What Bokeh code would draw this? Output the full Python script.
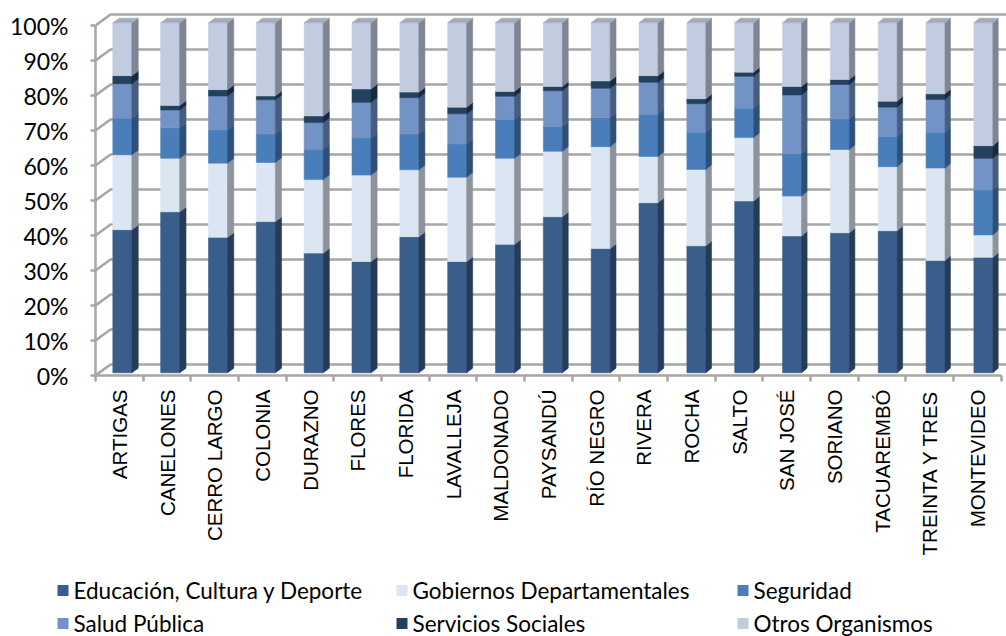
import numpy as np
from bokeh.plotting import figure
from bokeh.models import Range1d, LinearAxis, FixedTicker, ColumnDataSource
from bokeh.layouts import column
from bokeh.core.properties import value
from bokeh.embed import file_html
from bokeh.resources import INLINE

# ---------------- data ----------------
categories = ["ARTIGAS", "CANELONES", "CERRO LARGO", "COLONIA", "DURAZNO", "FLORES",
              "FLORIDA", "LAVALLEJA", "MALDONADO", "PAYSANDÚ", "RÍO NEGRO", "RIVERA",
              "ROCHA", "SALTO", "SAN JOSÉ", "SORIANO", "TACUAREMBÓ", "TREINTA Y TRES",
              "MONTEVIDEO"]

educacion = [40.9, 46.0, 38.7, 43.2, 34.2, 31.8, 38.9, 31.8, 36.7, 44.6, 35.5, 48.6, 36.3, 49.1, 39.1, 40.0, 40.6, 32.1, 33.0]
gobiernos = [21.4, 15.3, 21.2, 16.9, 21.0, 24.7, 19.1, 24.1, 24.6, 18.7, 29.1, 13.2, 21.8, 18.1, 11.4, 23.8, 18.3, 26.4, 6.4]
seguridad = [10.4, 8.7, 9.5, 8.2, 8.7, 10.6, 10.3, 9.5, 11.1, 7.1, 8.3, 12.1, 10.6, 8.4, 12.1, 8.7, 8.6, 10.2, 12.9]
salud = [9.9, 5.1, 9.7, 9.7, 7.6, 10.2, 10.3, 8.6, 6.6, 10.2, 8.4, 9.1, 8.2, 9.1, 16.8, 9.9, 8.4, 9.4, 9.0]
servicios = [2.3, 1.3, 1.8, 1.1, 1.9, 3.8, 1.6, 1.9, 1.4, 1.2, 2.1, 1.9, 1.4, 1.2, 2.4, 1.4, 1.7, 1.6, 3.6]
otros = [15.1, 23.6, 19.1, 20.9, 26.6, 18.9, 19.8, 24.1, 19.6, 18.2, 16.6, 15.1, 21.7, 14.1, 18.2, 16.2, 22.4, 20.3, 35.1]

series_names = ["Educación, Cultura y Deporte", "Gobiernos Departamentales", "Seguridad",
                "Salud Pública", "Servicios Sociales", "Otros Organismos"]
series_values = [educacion, gobiernos, seguridad, salud, servicios, otros]

y_ticks = list(range(0, 101, 10))
y_tick_labels = [f"{t}%" for t in y_ticks]

# ---------------- style ----------------
front_colors = ["#3A5E8B", "#DCE6F2", "#4A7EBB", "#7293C6", "#24405F", "#C2CCE1"]
side_colors = ["#253C59", "#8C939C", "#2E5078", "#475D7F", "#17293E", "#7E8594"]
top_color = "#A3ABBA"
GRID = "#A6A6A6"
GRID_W = 2.5

W, H1, H2 = 1006, 578, 58
FL, FT, FB = 95, 8, 203
FW = W - FL
FH = H1 - FB - FT
CAT_PX = 47.67      # pixels per category
PCT_PX = 3.5        # pixels per percent
x_end = FW / CAT_PX
y_end = FH / PCT_PX


def ox(px):
    return px / CAT_PX


def oy(px):
    return px / PCT_PX


p = figure(width=W, height=H1, x_range=Range1d(0, x_end), y_range=Range1d(0, y_end),
           output_backend="svg", toolbar_location=None,
           min_border_left=FL, min_border_right=0, min_border_top=FT, min_border_bottom=FB,
           x_axis_location=None, y_axis_location=None)
p.grid.visible = False
p.outline_line_color = None
p.background_fill_color = "white"
p.border_fill_color = "white"
p.frame_align = False

# 3D walls: left wall diagonals + back wall gridlines
WALL_DX, WALL_DY = 15, 11
gx, gy = [], []
for t in y_ticks:
    gx.append([0, ox(WALL_DX), x_end + 1])
    gy.append([t, t + oy(WALL_DY), t + oy(WALL_DY)])
p.multi_line(gx, gy, line_color=GRID, line_width=GRID_W)

# axes
yaxis = LinearAxis(ticker=FixedTicker(ticks=y_ticks), bounds=(0, 100),
                   major_label_overrides={t: lab for t, lab in zip(y_ticks, y_tick_labels)},
                   axis_line_color=GRID, axis_line_width=GRID_W,
                   major_tick_out=5, major_tick_in=0, minor_tick_out=0, minor_tick_in=0,
                   major_tick_line_color=GRID, major_tick_line_width=GRID_W,
                   major_label_standoff=22, major_label_text_font="Lato",
                   major_label_text_font_size="23px", major_label_text_color="#000000")
p.add_layout(yaxis, "left")

n = len(categories)
centers = [i + 0.5 for i in range(n)]
xaxis = LinearAxis(ticker=FixedTicker(ticks=centers, minor_ticks=list(range(n + 1))),
                   bounds=(0, n),
                   major_label_overrides={c: name for c, name in zip(centers, categories)},
                   major_label_orientation=np.pi / 2,
                   axis_line_color=GRID, axis_line_width=GRID_W,
                   major_tick_out=0, major_tick_in=0,
                   minor_tick_out=6, minor_tick_in=0,
                   minor_tick_line_color=GRID, minor_tick_line_width=GRID_W,
                   major_label_standoff=8,
                   major_label_text_font="Liberation Sans",
                   major_label_text_font_size="20.5px", major_label_text_color="#000000")
p.add_layout(xaxis, "below")

# bars
BAR_W = 19
FRONT_UP = 2.7
SIDE_UP = 4.6
xs, ys, cols = [], [], []
for i in range(n):
    shift = 3 + i / 6.0
    xl = centers[i] + ox(shift - BAR_W / 2)
    xr = xl + ox(BAR_W)
    sx = ox(6.4 - 1.1 * i / (n - 1))
    fy = oy(FRONT_UP)
    sy = oy(SIDE_UP)
    base = 0.0
    for s, vals in enumerate(series_values):
        y0, y1 = base + fy, base + vals[i] + fy
        base += vals[i]
        xs.append([xl, xr, xr, xl]); ys.append([y0, y0, y1, y1]); cols.append(front_colors[s])
        xs.append([xr, xr + sx, xr + sx, xr]); ys.append([y0, y0 + sy, y1 + sy, y1]); cols.append(side_colors[s])
    top = base + fy
    xs.append([xl, xr, xr + sx, xl + sx]); ys.append([top, top, top + sy, top + sy]); cols.append(top_color)

src = ColumnDataSource(dict(xs=xs, ys=ys, color=cols))
p.patches("xs", "ys", source=src, fill_color="color", line_color="color", line_width=0.6)

# legend (second figure, full-width frame, x/y data in page pixels)
p2 = figure(width=W, height=H2, x_range=Range1d(0, W), y_range=Range1d(H2, 0),
            output_backend="svg", toolbar_location=None,
            min_border_left=0, min_border_right=0, min_border_top=0, min_border_bottom=0,
            x_axis_location=None, y_axis_location=None)
p2.grid.visible = False
p2.outline_line_color = None
p2.frame_align = False
legend_col_x = [57, 396, 737]
legend_row_y = [12, 45]
lx = [legend_col_x[k % 3] for k in range(6)]
ly = [legend_row_y[k // 3] for k in range(6)]
p2.rect(x=[v + 5.5 for v in lx], y=ly, width=11, height=11, fill_color=front_colors, line_color=None)
p2.text(x=[v + 16 for v in lx], y=ly, text=series_names, text_font=value("Lato"),
        text_font_size="22.5px", text_baseline="middle", text_align="left", text_color="#000000")

layout = column(p, p2)
open("out.html", "w").write(file_html(layout, INLINE))
